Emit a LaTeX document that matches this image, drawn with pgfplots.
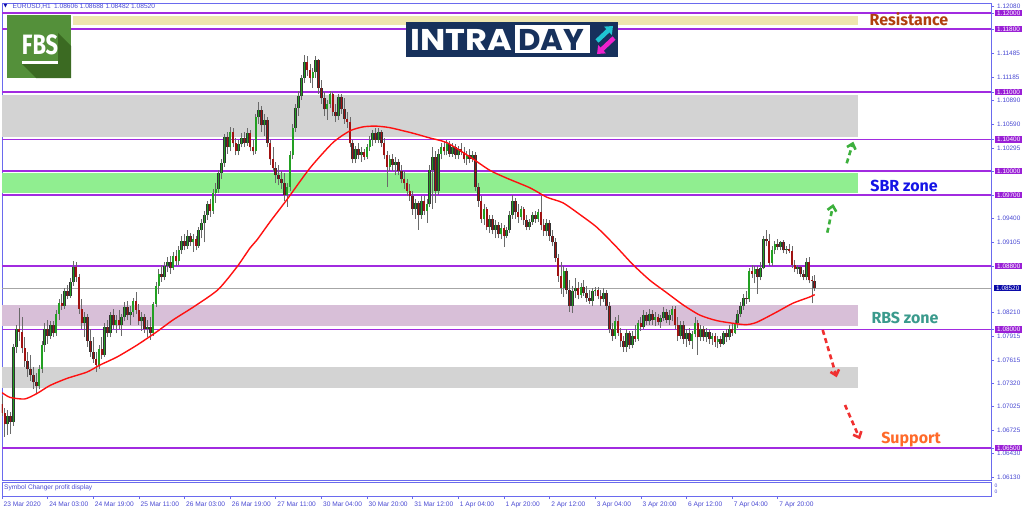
\documentclass[border=0pt]{standalone}
\usepackage{pgfplots}
\pgfplotsset{compat=1.18}
\usepackage{pgfplotstable}
\usepackage{graphicx}
\usepackage{fontspec}
\usetikzlibrary{arrows.meta}
\setmainfont{Liberation Sans}
\newfontfamily\labfont{Fira Sans}
\newfontfamily\logofont{Poppins}
\newfontfamily\symfont{DejaVu Sans}

\definecolor{axisblue}{HTML}{6A6AEE}
\definecolor{ticktext}{HTML}{4848D2}
\definecolor{linepurple}{HTML}{A12BE0}
\definecolor{boxpurple}{HTML}{9A1FD6}
\definecolor{bidblue}{HTML}{0A0AA8}
\definecolor{zonegray}{HTML}{D3D3D3}
\definecolor{zonegreen}{HTML}{90EE90}
\definecolor{zonepink}{HTML}{D8BFD8}
\definecolor{zoneyellow}{HTML}{EEE6AE}
\definecolor{upgreen}{HTML}{22A022}
\definecolor{downred}{HTML}{A01212}
\definecolor{wick}{HTML}{6A6A6A}
\definecolor{mared}{HTML}{FF1010}
\definecolor{fbsgreen}{HTML}{54903A}
\definecolor{fbsdark}{HTML}{3B6A22}
\definecolor{navy}{HTML}{17315C}
\definecolor{logocyan}{HTML}{1FC6D2}
\definecolor{logomag}{HTML}{EE22CC}
\definecolor{arrgreen}{HTML}{3CB03C}
\definecolor{arrred}{HTML}{F03030}
\definecolor{resist}{HTML}{B0400F}
\definecolor{sbr}{HTML}{1414E6}
\definecolor{rbs}{HTML}{3A9A8C}
\definecolor{support}{HTML}{FF6A2A}

% EURUSD H1 candles: index, open, high, low, close
\pgfplotstableread{
i o h l c
0 1.0705 1.0716 1.0690 1.0694
1 1.0694 1.0701 1.0664 1.0680
2 1.0680 1.0698 1.0667 1.0690
3 1.0690 1.0695 1.0668 1.0683
4 1.0683 1.0782 1.0678 1.0778
5 1.0778 1.0806 1.0770 1.0800
6 1.0800 1.0827 1.0785 1.0797
7 1.0797 1.0815 1.0770 1.0776
8 1.0776 1.0790 1.0752 1.0760
9 1.0760 1.0772 1.0740 1.0750
10 1.0750 1.0768 1.0735 1.0742
11 1.0742 1.0752 1.0724 1.0733
12 1.0733 1.0745 1.0720 1.0728
13 1.0728 1.0755 1.0724 1.0750
14 1.0750 1.0785 1.0745 1.0780
15 1.0780 1.0808 1.0772 1.0800
16 1.0800 1.0812 1.0782 1.0792
17 1.0792 1.0810 1.0788 1.0805
18 1.0805 1.0810 1.0790 1.0795
19 1.0795 1.0825 1.0792 1.0820
20 1.0820 1.0838 1.0812 1.0833
21 1.0833 1.0845 1.0825 1.0830
22 1.0830 1.0852 1.0826 1.0848
23 1.0848 1.0856 1.0838 1.0842
24 1.0842 1.0865 1.0840 1.0860
25 1.0860 1.0886 1.0855 1.0879
26 1.0879 1.0885 1.0860 1.0866
27 1.0866 1.0870 1.0820 1.0826
28 1.0826 1.0838 1.0800 1.0808
29 1.0808 1.0822 1.0790 1.0815
30 1.0815 1.0820 1.0778 1.0785
31 1.0785 1.0800 1.0765 1.0772
32 1.0772 1.0790 1.0758 1.0762
33 1.0762 1.0772 1.0746 1.0755
34 1.0755 1.0780 1.0750 1.0775
35 1.0775 1.0790 1.0762 1.0768
36 1.0768 1.0808 1.0765 1.0803
37 1.0803 1.0812 1.0790 1.0795
38 1.0795 1.0822 1.0790 1.0818
39 1.0818 1.0826 1.0800 1.0806
40 1.0806 1.0818 1.0795 1.0812
41 1.0812 1.0824 1.0800 1.0805
42 1.0805 1.0820 1.0792 1.0815
43 1.0815 1.0835 1.0810 1.0828
44 1.0828 1.0836 1.0812 1.0818
45 1.0818 1.0830 1.0805 1.0822
46 1.0822 1.0840 1.0815 1.0836
47 1.0836 1.0847 1.0820 1.0825
48 1.0825 1.0832 1.0805 1.0810
49 1.0810 1.0822 1.0798 1.0815
50 1.0815 1.0820 1.0796 1.0800
51 1.0800 1.0812 1.0790 1.0803
52 1.0803 1.0815 1.0787 1.0795
53 1.0795 1.0835 1.0792 1.0832
54 1.0832 1.0860 1.0828 1.0855
55 1.0855 1.0876 1.0845 1.0870
56 1.0870 1.0882 1.0860 1.0866
57 1.0866 1.0885 1.0862 1.0880
58 1.0880 1.0892 1.0872 1.0885
59 1.0885 1.0893 1.0870 1.0878
60 1.0878 1.0898 1.0875 1.0893
61 1.0893 1.0900 1.0880 1.0886
62 1.0886 1.0905 1.0882 1.0900
63 1.0900 1.0918 1.0895 1.0912
64 1.0912 1.0920 1.0900 1.0905
65 1.0905 1.0925 1.0902 1.0918
66 1.0918 1.0922 1.0905 1.0910
67 1.0910 1.0920 1.0898 1.0914
68 1.0914 1.0918 1.0900 1.0906
69 1.0906 1.0930 1.0903 1.0925
70 1.0925 1.0940 1.0915 1.0934
71 1.0934 1.0950 1.0910 1.0945
72 1.0945 1.0962 1.0938 1.0958
73 1.0958 1.0965 1.0942 1.0950
74 1.0950 1.0978 1.0946 1.0972
75 1.0972 1.0985 1.0960 1.0978
76 1.0978 1.1002 1.0972 1.0998
77 1.0998 1.1015 1.0990 1.1010
78 1.1010 1.1047 1.1005 1.1043
79 1.1043 1.1050 1.1022 1.1030
80 1.1030 1.1056 1.1025 1.1050
81 1.1050 1.1055 1.1030 1.1035
82 1.1035 1.1042 1.1020 1.1026
83 1.1026 1.1040 1.1020 1.1034
84 1.1034 1.1048 1.1030 1.1042
85 1.1042 1.1050 1.1030 1.1036
86 1.1036 1.1054 1.1032 1.1048
87 1.1048 1.1052 1.1025 1.1030
88 1.1030 1.1040 1.1020 1.1025
89 1.1025 1.1072 1.1022 1.1068
90 1.1068 1.1087 1.1060 1.1077
91 1.1077 1.1082 1.1050 1.1058
92 1.1058 1.1072 1.1045 1.1065
93 1.1065 1.1068 1.1030 1.1036
94 1.1036 1.1040 1.1008 1.1015
95 1.1015 1.1030 1.1000 1.1004
96 1.1004 1.1012 1.0985 1.0995
97 1.0995 1.1008 1.0982 1.0990
98 1.0990 1.1000 1.0978 1.0985
99 1.0985 1.0998 1.0962 1.0970
100 1.0970 1.0985 1.0955 1.0980
101 1.0980 1.1025 1.0975 1.1020
102 1.1020 1.1060 1.1015 1.1055
103 1.1055 1.1085 1.1050 1.1080
104 1.1080 1.1102 1.1070 1.1095
105 1.1095 1.1122 1.1090 1.1118
106 1.1118 1.1147 1.1112 1.1138
107 1.1138 1.1145 1.1120 1.1128
108 1.1128 1.1135 1.1112 1.1118
109 1.1118 1.1130 1.1105 1.1125
110 1.1125 1.1146 1.1118 1.1140
111 1.1140 1.1142 1.1098 1.1105
112 1.1105 1.1115 1.1085 1.1092
113 1.1092 1.1100 1.1070 1.1078
114 1.1078 1.1090 1.1065 1.1085
115 1.1085 1.1102 1.1080 1.1098
116 1.1098 1.1100 1.1070 1.1075
117 1.1075 1.1085 1.1062 1.1070
118 1.1070 1.1098 1.1065 1.1094
119 1.1094 1.1097 1.1072 1.1078
120 1.1078 1.1092 1.1060 1.1066
121 1.1066 1.1075 1.1055 1.1062
122 1.1062 1.1068 1.1030 1.1035
123 1.1035 1.1040 1.1010 1.1015
124 1.1015 1.1032 1.1010 1.1028
125 1.1028 1.1035 1.1015 1.1020
126 1.1020 1.1030 1.1012 1.1024
127 1.1024 1.1028 1.1014 1.1018
128 1.1018 1.1034 1.1015 1.1030
129 1.1030 1.1045 1.1026 1.1040
130 1.1040 1.1052 1.1032 1.1048
131 1.1048 1.1055 1.1035 1.1040
132 1.1040 1.1054 1.1036 1.1050
133 1.1050 1.1052 1.1030 1.1035
134 1.1035 1.1042 1.1015 1.1020
135 1.1020 1.1025 1.0980 1.1005
136 1.1005 1.1020 1.1000 1.1015
137 1.1015 1.1022 1.1000 1.1008
138 1.1008 1.1018 1.0995 1.1012
139 1.1012 1.1016 1.0995 1.1000
140 1.1000 1.1008 1.0985 1.0990
141 1.0990 1.1000 1.0978 1.0985
142 1.0985 1.0990 1.0968 1.0975
143 1.0975 1.0984 1.0962 1.0968
144 1.0968 1.0975 1.0945 1.0952
145 1.0952 1.0965 1.0940 1.0960
146 1.0960 1.0962 1.0926 1.0945
147 1.0945 1.0968 1.0940 1.0962
148 1.0962 1.0968 1.0945 1.0950
149 1.0950 1.0965 1.0935 1.0958
150 1.0958 1.1008 1.0955 1.1002
151 1.1002 1.1030 1.0952 1.1018
152 1.1018 1.1025 1.0960 1.0975
153 1.0975 1.1028 1.0970 1.1022
154 1.1022 1.1035 1.1015 1.1030
155 1.1030 1.1038 1.1020 1.1025
156 1.1025 1.1040 1.1020 1.1034
157 1.1034 1.1038 1.1018 1.1022
158 1.1022 1.1036 1.1018 1.1030
159 1.1030 1.1034 1.1016 1.1020
160 1.1020 1.1032 1.1015 1.1028
161 1.1028 1.1035 1.1020 1.1024
162 1.1024 1.1030 1.1010 1.1015
163 1.1015 1.1025 1.1008 1.1020
164 1.1020 1.1028 1.1010 1.1016
165 1.1016 1.1026 1.1012 1.1020
166 1.1020 1.1024 1.0975 1.0980
167 1.0980 1.0985 1.0955 1.0962
168 1.0962 1.0968 1.0935 1.0940
169 1.0940 1.0958 1.0932 1.0952
170 1.0952 1.0955 1.0925 1.0930
171 1.0930 1.0945 1.0922 1.0940
172 1.0940 1.0944 1.0920 1.0926
173 1.0926 1.0938 1.0915 1.0932
174 1.0932 1.0936 1.0915 1.0920
175 1.0920 1.0935 1.0914 1.0928
176 1.0928 1.0932 1.0904 1.0918
177 1.0918 1.0930 1.0915 1.0926
178 1.0926 1.0950 1.0922 1.0945
179 1.0945 1.0970 1.0940 1.0962
180 1.0962 1.0966 1.0940 1.0948
181 1.0948 1.0958 1.0935 1.0942
182 1.0942 1.0956 1.0938 1.0952
183 1.0952 1.0955 1.0932 1.0938
184 1.0938 1.0944 1.0925 1.0930
185 1.0930 1.0940 1.0926 1.0936
186 1.0936 1.0948 1.0932 1.0944
187 1.0944 1.0950 1.0935 1.0940
188 1.0940 1.0952 1.0936 1.0948
189 1.0948 1.0969 1.0925 1.0932
190 1.0932 1.0940 1.0918 1.0924
191 1.0924 1.0940 1.0918 1.0935
192 1.0935 1.0938 1.0912 1.0918
193 1.0918 1.0925 1.0905 1.0910
194 1.0910 1.0915 1.0885 1.0890
195 1.0890 1.0895 1.0860 1.0868
196 1.0868 1.0885 1.0845 1.0852
197 1.0852 1.0880 1.0841 1.0874
198 1.0874 1.0878 1.0845 1.0850
199 1.0850 1.0862 1.0822 1.0830
200 1.0830 1.0855 1.0821 1.0848
201 1.0848 1.0865 1.0840 1.0852
202 1.0852 1.0860 1.0838 1.0844
203 1.0844 1.0858 1.0840 1.0854
204 1.0854 1.0862 1.0842 1.0846
205 1.0846 1.0855 1.0835 1.0840
206 1.0840 1.0850 1.0832 1.0836
207 1.0836 1.0852 1.0830 1.0848
208 1.0848 1.0854 1.0842 1.0850
209 1.0850 1.0853 1.0838 1.0842
210 1.0842 1.0850 1.0830 1.0838
211 1.0838 1.0852 1.0834 1.0846
212 1.0846 1.0850 1.0825 1.0830
213 1.0830 1.0834 1.0795 1.0800
214 1.0800 1.0808 1.0785 1.0792
215 1.0792 1.0815 1.0788 1.0810
216 1.0810 1.0818 1.0792 1.0796
217 1.0796 1.0802 1.0778 1.0785
218 1.0785 1.0792 1.0772 1.0778
219 1.0778 1.0800 1.0771 1.0795
220 1.0795 1.0798 1.0775 1.0780
221 1.0780 1.0798 1.0776 1.0792
222 1.0792 1.0806 1.0784 1.0788
223 1.0788 1.0812 1.0785 1.0808
224 1.0808 1.0815 1.0798 1.0803
225 1.0803 1.0824 1.0800 1.0818
226 1.0818 1.0822 1.0805 1.0810
227 1.0810 1.0826 1.0806 1.0820
228 1.0820 1.0824 1.0806 1.0812
229 1.0812 1.0822 1.0804 1.0816
230 1.0816 1.0820 1.0805 1.0809
231 1.0809 1.0818 1.0802 1.0814
232 1.0814 1.0828 1.0810 1.0822
233 1.0822 1.0826 1.0808 1.0812
234 1.0812 1.0824 1.0805 1.0818
235 1.0818 1.0830 1.0810 1.0826
236 1.0826 1.0830 1.0800 1.0806
237 1.0806 1.0815 1.0785 1.0792
238 1.0792 1.0810 1.0788 1.0805
239 1.0805 1.0810 1.0782 1.0788
240 1.0788 1.0800 1.0778 1.0796
241 1.0796 1.0802 1.0780 1.0785
242 1.0785 1.0798 1.0775 1.0794
243 1.0794 1.0815 1.0790 1.0808
244 1.0808 1.0812 1.0768 1.0790
245 1.0790 1.0805 1.0785 1.0800
246 1.0800 1.0804 1.0785 1.0790
247 1.0790 1.0802 1.0784 1.0797
248 1.0797 1.0800 1.0782 1.0788
249 1.0788 1.0796 1.0780 1.0792
250 1.0792 1.0795 1.0778 1.0784
251 1.0784 1.0792 1.0776 1.0788
252 1.0788 1.0792 1.0778 1.0782
253 1.0782 1.0798 1.0780 1.0795
254 1.0795 1.0800 1.0784 1.0790
255 1.0790 1.0805 1.0786 1.0800
256 1.0800 1.0808 1.0792 1.0796
257 1.0796 1.0812 1.0794 1.0808
258 1.0808 1.0825 1.0802 1.0820
259 1.0820 1.0835 1.0815 1.0830
260 1.0830 1.0845 1.0825 1.0840
261 1.0840 1.0848 1.0832 1.0838
262 1.0838 1.0878 1.0835 1.0874
263 1.0874 1.0882 1.0865 1.0870
264 1.0870 1.0880 1.0858 1.0876
265 1.0876 1.0880 1.0845 1.0866
266 1.0866 1.0885 1.0862 1.0878
267 1.0878 1.0918 1.0876 1.0914
268 1.0914 1.0926 1.0905 1.0912
269 1.0912 1.0920 1.0880 1.0884
270 1.0884 1.0905 1.0880 1.0900
271 1.0900 1.0912 1.0895 1.0908
272 1.0908 1.0914 1.0900 1.0904
273 1.0904 1.0912 1.0900 1.0910
274 1.0910 1.0913 1.0896 1.0900
275 1.0900 1.0906 1.0895 1.0902
276 1.0902 1.0908 1.0896 1.0899
277 1.0899 1.0905 1.0878 1.0882
278 1.0882 1.0888 1.0872 1.0876
279 1.0876 1.0882 1.0870 1.0879
280 1.0879 1.0880 1.0866 1.0870
281 1.0870 1.0875 1.0862 1.0866
282 1.0866 1.0890 1.0862 1.0885
283 1.0885 1.0891 1.0858 1.0862
284 1.0862 1.0868 1.0833 1.0861
285 1.08606 1.08688 1.08482 1.08520
}\candles

\begin{document}
\begin{tikzpicture}
\useasboundingbox (0,0) rectangle (1024pt,-511pt);

\begin{axis}[
  at={(2pt,-480pt)}, anchor=south west,
  scale only axis, width=989pt, height=477pt,
  xmin=0, xmax=346.8, ymin=1.060953, ymax=1.121264,
  axis line style={draw=axisblue, line width=0.9pt},
  xtick=\empty,
  ytick={1.12080,1.11485,1.11185,1.10890,1.10590,1.10295,1.09400,1.09105,
         1.08210,1.07915,1.07615,1.07320,1.07025,1.06725,1.06430,1.06130},
  ytick pos=right, yticklabel pos=right,
  tick align=outside, major tick length=3pt,
  tick style={draw=axisblue, line width=0.6pt},
  y tick label style={/pgf/number format/fixed, /pgf/number format/fixed zerofill,
    /pgf/number format/precision=5, /pgf/number format/assume math mode=true},
  yticklabel style={anchor=west, font=\fontsize{6.4}{7}\selectfont, text=ticktext,
    inner xsep=2pt, inner ysep=1pt, xshift=1pt},
  extra y ticks={1.12,1.118,1.11,1.104,1.10,1.097,1.088,1.08,1.065},
  extra y tick style={grid=major,
    major grid style={draw=linepurple, line width=1.4pt},
    yticklabel style={fill=boxpurple, text=white}},
  candle/.style={forget plot, draw=none, no markers,
    error bars/y dir=plus, error bars/y explicit, error bars/error mark=none},
]
% zones
\addplot[forget plot, draw=none, fill=zoneyellow] coordinates {(24.9,1.11842)(300.2,1.11842)(300.2,1.11968)(24.9,1.11968)} -- cycle;
\addplot[forget plot, draw=none, fill=zonegray] coordinates {(0,1.10432)(300.2,1.10432)(300.2,1.10963)(0,1.10963)} -- cycle;
\addplot[forget plot, draw=none, fill=zonegreen] coordinates {(0,1.09728)(300.2,1.09728)(300.2,1.09973)(0,1.09973)} -- cycle;
\addplot[forget plot, draw=none, fill=zonepink] coordinates {(0,1.08042)(300.2,1.08042)(300.2,1.08308)(0,1.08308)} -- cycle;
\addplot[forget plot, draw=none, fill=zonegray] coordinates {(0,1.07255)(300.2,1.07255)(300.2,1.07528)(0,1.07528)} -- cycle;
% bid line
\addplot[forget plot, draw=gray!70, line width=0.6pt] coordinates {(0,1.0852)(346.8,1.0852)};
% wicks
\addplot[candle, error bars/error bar style={draw=wick, line width=0.8pt}]
  table[x=i, y=l, y error plus expr=\thisrow{h}-\thisrow{l}] {\candles};
% body outlines
\addplot[candle, error bars/error bar style={draw=black!80, line width=2.6pt}]
  table[x=i, y expr={min(\thisrow{o},\thisrow{c})}, y error plus expr={abs(\thisrow{c}-\thisrow{o})}] {\candles};
% bullish bodies
\addplot[candle, restrict x to domain=-1:400, error bars/error bar style={draw=upgreen, line width=1.4pt}]
  table[x expr={\thisrow{c}>=\thisrow{o} ? \thisrow{i} : -50}, y expr={min(\thisrow{o},\thisrow{c})}, y error plus expr={abs(\thisrow{c}-\thisrow{o})}] {\candles};
% bearish bodies
\addplot[candle, restrict x to domain=-1:400, error bars/error bar style={draw=downred, line width=1.4pt}]
  table[x expr={\thisrow{c}<\thisrow{o} ? \thisrow{i} : -50}, y expr={min(\thisrow{o},\thisrow{c})}, y error plus expr={abs(\thisrow{c}-\thisrow{o})}] {\candles};
% moving average
\addplot[forget plot, draw=mared, line width=1.4pt, smooth, tension=0.4] coordinates {
(0,1.0720)(2.8,1.0714)(8,1.0712)(12.3,1.0719)(16.8,1.0729)(22.8,1.0738)(29.8,1.0746)
(34.4,1.0755)(40.3,1.0765)(47.3,1.0780)(54.3,1.0797)(60,1.0812)(67,1.0828)(75.7,1.0850)
(82.4,1.0879)(87,1.0903)(89.4,1.0913)(94,1.0936)(99.9,1.0964)(108,1.1004)(116,1.1036)
(122,1.1051)(126.6,1.1056)(131,1.1057)(136,1.1055)(144.1,1.1048)(150,1.1042)(156,1.1036)
(164.1,1.1018)(171.1,1.1001)(177.1,1.0991)(185.1,1.0979)(191.1,1.0967)(196.7,1.0960)
(202.7,1.0945)(208.6,1.0929)(215,1.0906)(221.2,1.0882)(227.2,1.0862)(233.2,1.0846)
(238.8,1.0831)(244.7,1.0818)(250.7,1.0811)(257.7,1.0807)(261.2,1.0806)(264.7,1.0809)
(271.7,1.0822)(277.3,1.0833)(283.3,1.0841)(285,1.0844)};
\end{axis}

% bottom panel with the time scale
\begin{axis}[
  at={(2pt,-496pt)}, anchor=south west,
  scale only axis, width=989pt, height=14pt,
  xmin=0, xmax=346.8, ymin=0, ymax=1,
  axis line style={draw=axisblue, line width=0.9pt},
  ytick=\empty,
  xtick={0,16,...,272},
  xticklabels={23 Mar 2020,24 Mar 03:00,24 Mar 19:00,25 Mar 11:00,26 Mar 03:00,26 Mar 19:00,
    27 Mar 11:00,30 Mar 04:00,30 Mar 20:00,31 Mar 12:00,1 Apr 04:00,1 Apr 20:00,2 Apr 12:00,
    3 Apr 04:00,3 Apr 20:00,6 Apr 12:00,7 Apr 04:00,7 Apr 20:00},
  xtick pos=bottom, tick align=outside, major tick length=3pt,
  tick style={draw=axisblue, line width=0.6pt},
  xticklabel style={anchor=north west, font=\fontsize{6.6}{7}\selectfont, text=ticktext,
    inner xsep=1.5pt, inner ysep=1pt, yshift=-1.5pt},
]
\end{axis}

\begin{scope}[x=1pt, y=-1pt]
  % header
  \node[anchor=west, inner sep=0pt, text=bidblue, font={\symfont\fontsize{5}{6}\selectfont}] at (3.5,6.6) {▼};
  \node[anchor=west, inner sep=0pt, text=ticktext, font=\fontsize{6.6}{7}\selectfont] at (12.5,6.8)
    {EURUSD,H1\enspace 1.08606 1.08688 1.08482 1.08520};
  \node[anchor=west, inner sep=0pt, text=ticktext, font=\fontsize{6.6}{7}\selectfont] at (4,488)
    {Symbol Changer profit display};
  \node[inner sep=0pt, text=ticktext, font=\fontsize{5}{5}\selectfont] at (996,485.5) {0};
  \node[inner sep=0pt, text=ticktext, font=\fontsize{5}{5}\selectfont] at (996,491.5) {0};
  % bid price box
  \node[anchor=west, fill=bidblue, text=white, font=\fontsize{6.4}{7}\selectfont,
    inner xsep=2pt, inner ysep=1pt] at (994,288.2) {1.08520};

  % zone captions
  \node[text=resist, font={\labfont\bfseries\fontsize{16}{18}\selectfont}] at (909,19.5) {Resistance};
  % FBS logo
  \fill[fbsgreen] (7,15) rectangle (71,78);
  \fill[fbsdark] (22,64) -- (58,64) -- (58,33) -- (71,46) -- (71,78) -- (36,78) -- cycle;
  \node[text=white, font={\labfont\bfseries\fontsize{28}{30}\selectfont}] at (40,44.5) {\scalebox{0.78}[1]{FBS}};
  \fill[white] (22,61) rectangle (58,64);
  % INTRADAY logo
  \fill[navy] (406,22) rectangle (618,57);
  \fill[white] (515,25.5) rectangle (590,53.5);
  \node[anchor=base west, inner sep=0pt, text=white, font={\logofont\bfseries\fontsize{30}{32}\selectfont}] at (410,50) {\scalebox{1.12}[1]{INTRA}};
  \node[anchor=base west, inner sep=0pt, text=navy, font={\logofont\bfseries\fontsize{30}{32}\selectfont}] at (518,50) {\scalebox{1.03}[1]{DAY}};
  \draw[logocyan, line width=4.5pt, -{Triangle[length=7pt,width=11pt]}] (597,41) -- (613,26);
  \draw[logomag, line width=4.5pt, -{Triangle[length=7pt,width=11pt]}] (614,38) -- (597,54);
  % projected moves
  \draw[arrgreen, line width=2.6pt, dash pattern=on 5pt off 3.5pt, -{Straight Barb[length=5pt,width=9pt]}] (846.7,163.3) -- (853.3,141.7);
  \draw[arrgreen, line width=2.6pt, dash pattern=on 5pt off 3.5pt, -{Straight Barb[length=5pt,width=9pt]}] (827.3,232.7) -- (833.3,204);
  \draw[arrred, line width=2.6pt, dash pattern=on 5pt off 3.5pt, -{Straight Barb[length=5pt,width=9pt]}] (822.7,330) -- (836.7,377.3);
  \draw[arrred, line width=2.6pt, dash pattern=on 5pt off 3.5pt, -{Straight Barb[length=5pt,width=9pt]}] (845,405) -- (860,439.3);
  \node[text=sbr, font={\labfont\bfseries\fontsize{16}{18}\selectfont}] at (904,186) {SBR zone};
  \node[text=rbs, font={\labfont\bfseries\fontsize{16}{18}\selectfont}] at (905,318) {RBS zone};
  \node[text=support, font={\labfont\bfseries\fontsize{16}{18}\selectfont}] at (911,440) {Support};
\end{scope}
\end{tikzpicture}
\end{document}
